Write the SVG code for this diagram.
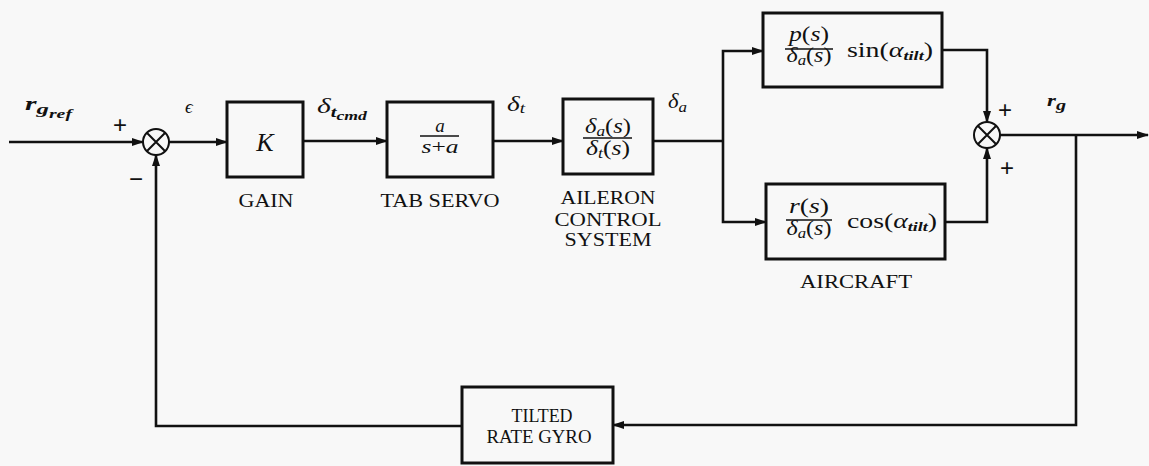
<svg xmlns="http://www.w3.org/2000/svg" width="1149" height="466" viewBox="0 0 1149 466">
<style>
  .bg{fill:#f8f8f8}
  .box{fill:none;stroke:#111;stroke-width:3}
  .ln{fill:none;stroke:#111;stroke-width:2.6}
  .sum{fill:none;stroke:#111;stroke-width:2}
  .bar{stroke:#111;stroke-width:1.5}
  text{font-family:"Liberation Serif","DejaVu Serif",serif;fill:#111}
  .lbl{font-size:18px;text-anchor:middle}
  .m{font-style:italic}
  .mid{text-anchor:middle}
  .sign{font-family:"Liberation Sans","DejaVu Sans",sans-serif;font-size:24px;text-anchor:middle}
</style>
<defs>
  <marker id="ah" markerWidth="12" markerHeight="8" refX="11" refY="4" orient="auto" markerUnits="userSpaceOnUse">
    <path d="M0,0 L12,4 L0,8 Z" fill="#111"/>
  </marker>
</defs>
<rect class="bg" x="0" y="0" width="1149" height="466"/>

<g id="connectors">
  <path class="ln" d="M9,142 H143" marker-end="url(#ah)"/>
  <path class="ln" d="M169,142 H227" marker-end="url(#ah)"/>
  <path class="ln" d="M303,141 H387" marker-end="url(#ah)"/>
  <path class="ln" d="M493,141 H563" marker-end="url(#ah)"/>
  <path class="ln" d="M653,141 H723"/>
  <path class="ln" d="M723,141 V51 H763" marker-end="url(#ah)"/>
  <path class="ln" d="M723,141 V222 H766" marker-end="url(#ah)"/>
  <path class="ln" d="M942,50 H987 V122" marker-end="url(#ah)"/>
  <path class="ln" d="M945,222 H987 V148" marker-end="url(#ah)"/>
  <path class="ln" d="M1000,135 H1148" marker-end="url(#ah)"/>
  <path class="ln" d="M1076,135 V425 H613" marker-end="url(#ah)"/>
  <path class="ln" d="M462,426 H156 V155" marker-end="url(#ah)"/>
</g>

<g id="sum1">
  <circle class="sum" cx="156" cy="142" r="13"/>
  <path class="sum" d="M146.8,132.8 L165.2,151.2 M165.2,132.8 L146.8,151.2"/>
  <text class="sign" x="120" y="133">+</text>
  <text class="sign" x="136" y="187">−</text>
</g>

<g id="sum2">
  <circle class="sum" cx="987" cy="135" r="13"/>
  <path class="sum" d="M977.8,125.8 L996.2,144.2 M996.2,125.8 L977.8,144.2"/>
  <text class="sign" x="1005" y="118">+</text>
  <text class="sign" x="1007" y="176">+</text>
</g>

<g id="labels">
  <text x="25" y="110" class="m" font-size="18" font-weight="bold" textLength="47" lengthAdjust="spacingAndGlyphs">r<tspan font-size="15" dy="4">g</tspan><tspan font-size="12" dy="4">ref</tspan></text>
  <text x="185" y="113" class="m" font-size="19">ϵ</text>
  <text x="317" y="113" class="m" font-size="20" textLength="50" lengthAdjust="spacingAndGlyphs">δ<tspan font-size="14" dy="4" font-weight="bold">t</tspan><tspan font-size="12" dy="3" font-weight="bold">cmd</tspan></text>
  <text x="507" y="111" class="m" font-size="20" textLength="18" lengthAdjust="spacingAndGlyphs">δ<tspan font-size="14" dy="2">t</tspan></text>
  <text x="668" y="108" class="m" font-size="20" textLength="19" lengthAdjust="spacingAndGlyphs">δ<tspan font-size="15" dy="4">a</tspan></text>
  <text x="1047" y="106" class="m" font-size="17" font-weight="bold" textLength="19" lengthAdjust="spacingAndGlyphs">r<tspan font-size="15" dy="4">g</tspan></text>
</g>

<g id="gain">
  <rect class="box" x="227" y="102" width="76" height="75"/>
  <text x="265" y="151" class="m mid" font-size="26">K</text>
  <text x="266" y="207" class="lbl" textLength="55" lengthAdjust="spacingAndGlyphs">GAIN</text>
</g>

<g id="tab-servo">
  <rect class="box" x="387" y="102" width="106" height="75"/>
  <text x="440" y="132" class="m mid" font-size="19">a</text>
  <line class="bar" x1="420" y1="136" x2="459" y2="136"/>
  <text x="440" y="153" class="mid" font-size="19" textLength="37" lengthAdjust="spacingAndGlyphs"><tspan font-style="italic">s</tspan>+<tspan font-style="italic">a</tspan></text>
  <text x="440" y="207" class="lbl" textLength="119" lengthAdjust="spacingAndGlyphs">TAB SERVO</text>
</g>

<g id="aileron">
  <rect class="box" x="563" y="99" width="90" height="75"/>
  <text x="608" y="133" class="mid" font-size="20" textLength="46" lengthAdjust="spacingAndGlyphs"><tspan font-style="italic">δ</tspan><tspan font-style="italic" font-size="14" dy="3">a</tspan><tspan dy="-3">(</tspan><tspan font-style="italic">s</tspan>)</text>
  <line class="bar" x1="583" y1="138" x2="632" y2="138"/>
  <text x="608" y="155" class="mid" font-size="20" textLength="44" lengthAdjust="spacingAndGlyphs"><tspan font-style="italic">δ</tspan><tspan font-style="italic" font-size="14" dy="3">t</tspan><tspan dy="-3">(</tspan><tspan font-style="italic">s</tspan>)</text>
  <text x="608" y="204" class="lbl" textLength="95" lengthAdjust="spacingAndGlyphs">AILERON</text>
  <text x="608" y="226" class="lbl" textLength="107" lengthAdjust="spacingAndGlyphs">CONTROL</text>
  <text x="608" y="246" class="lbl" textLength="87" lengthAdjust="spacingAndGlyphs">SYSTEM</text>
</g>

<g id="aircraft-roll">
  <rect class="box" x="763" y="13" width="179" height="74"/>
  <text x="809" y="41" class="mid" font-size="20" textLength="40" lengthAdjust="spacingAndGlyphs"><tspan font-style="italic">p</tspan>(<tspan font-style="italic">s</tspan>)</text>
  <line class="bar" x1="785" y1="49" x2="833" y2="49"/>
  <text x="809" y="62" class="mid" font-size="20" textLength="45" lengthAdjust="spacingAndGlyphs"><tspan font-style="italic">δ</tspan><tspan font-style="italic" font-size="14" dy="3">a</tspan><tspan dy="-3">(</tspan><tspan font-style="italic">s</tspan>)</text>
  <text x="847" y="57" font-size="20" textLength="86" lengthAdjust="spacingAndGlyphs">sin(<tspan font-style="italic">α</tspan><tspan font-style="italic" font-size="13" dy="3" font-weight="bold">tilt</tspan><tspan dy="-3">)</tspan></text>
</g>

<g id="aircraft-yaw">
  <rect class="box" x="766" y="184" width="179" height="75"/>
  <text x="809" y="213" class="mid" font-size="20" textLength="40" lengthAdjust="spacingAndGlyphs"><tspan font-style="italic">r</tspan>(<tspan font-style="italic">s</tspan>)</text>
  <line class="bar" x1="786" y1="220" x2="832" y2="220"/>
  <text x="809" y="235" class="mid" font-size="20" textLength="45" lengthAdjust="spacingAndGlyphs"><tspan font-style="italic">δ</tspan><tspan font-style="italic" font-size="14" dy="3">a</tspan><tspan dy="-3">(</tspan><tspan font-style="italic">s</tspan>)</text>
  <text x="847" y="228" font-size="20" textLength="90" lengthAdjust="spacingAndGlyphs">cos(<tspan font-style="italic">α</tspan><tspan font-style="italic" font-size="13" dy="3" font-weight="bold">tilt</tspan><tspan dy="-3">)</tspan></text>
  <text x="856" y="288" class="lbl" textLength="112" lengthAdjust="spacingAndGlyphs">AIRCRAFT</text>
</g>

<g id="gyro">
  <rect class="box" x="462" y="387" width="151" height="76"/>
  <text x="542" y="422" class="lbl" textLength="61" lengthAdjust="spacingAndGlyphs">TILTED</text>
  <text x="539" y="443" class="lbl" textLength="105" lengthAdjust="spacingAndGlyphs">RATE GYRO</text>
</g>
</svg>
